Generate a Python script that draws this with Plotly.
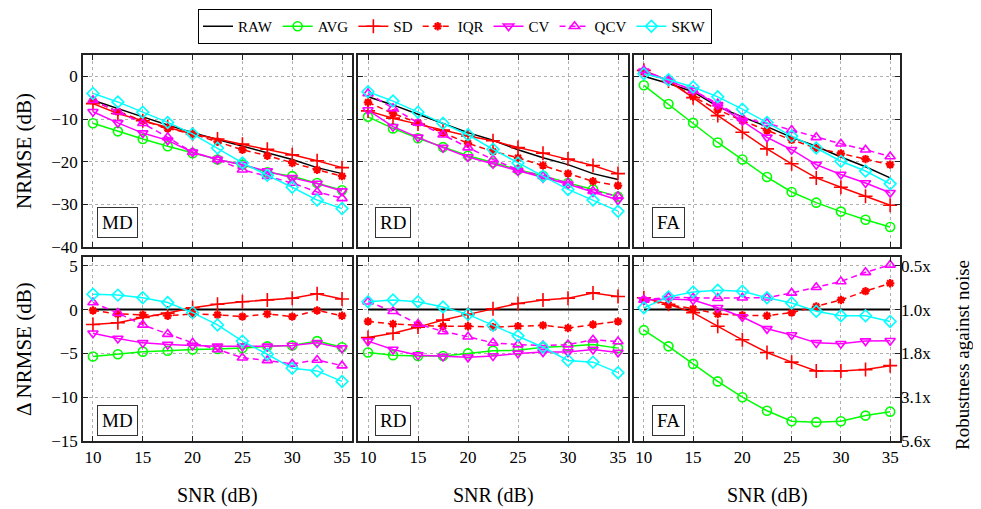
import plotly.graph_objects as go

snr = [10, 12.5, 15, 17.5, 20, 22.5, 25, 27.5, 30, 32.5, 35]
methods = ["RAW", "AVG", "SD", "IQR", "CV", "QCV", "SKW"]
panels = ["MD", "RD", "FA"]

# Row 1: NRMSE (dB)
nrmse_MD = {
    "RAW": [-5.6, -7.6, -9.5, -11.4, -13.2, -14.8, -16.4, -18.0, -19.5, -21.4, -22.8],
    "AVG": [-11.0, -12.9, -14.7, -16.4, -18.0, -19.5, -20.7, -22.5, -23.4, -25.0, -26.7],
    "SD":  [-6.4, -8.7, -10.4, -11.9, -13.5, -14.7, -15.9, -17.1, -18.4, -19.8, -21.4],
    "IQR": [-5.7, -8.3, -10.4, -12.2, -13.5, -15.3, -17.2, -18.6, -20.3, -21.9, -23.4],
    "CV":  [-8.3, -10.9, -13.3, -15.0, -17.8, -19.5, -20.7, -22.2, -23.8, -25.1, -26.9],
    "QCV": [-5.6, -8.3, -11.0, -14.3, -17.8, -19.5, -21.9, -23.4, -25.0, -27.1, -28.6],
    "SKW": [-4.0, -6.0, -8.4, -10.8, -13.5, -16.8, -20.3, -23.2, -26.0, -29.0, -31.0],
}
nrmse_RD = {
    "RAW": [-4.8, -6.7, -8.9, -11.0, -13.2, -15.0, -17.2, -19.1, -20.7, -22.8, -24.2],
    "AVG": [-9.5, -12.2, -14.5, -16.6, -18.6, -20.2, -21.9, -23.3, -25.0, -26.5, -28.2],
    "SD":  [-8.1, -9.8, -11.2, -12.6, -14.0, -15.1, -16.7, -18.0, -19.4, -20.9, -22.8],
    "IQR": [-6.1, -8.7, -10.9, -13.2, -15.7, -17.6, -19.1, -20.9, -22.8, -24.6, -25.6],
    "CV":  [-7.9, -11.8, -14.3, -16.7, -18.9, -20.5, -22.2, -23.8, -25.3, -27.1, -29.0],
    "QCV": [-4.0, -7.5, -10.9, -13.7, -16.7, -19.5, -21.9, -23.4, -25.0, -26.9, -28.1],
    "SKW": [-3.6, -5.8, -8.4, -11.0, -13.7, -17.1, -20.3, -23.4, -26.5, -29.0, -31.6],
}
nrmse_FA = {
    "RAW": [0.0, -1.7, -3.6, -7.1, -9.5, -11.8, -14.3, -16.4, -18.9, -21.2, -23.8],
    "AVG": [-2.1, -6.5, -10.9, -15.5, -19.5, -23.6, -27.1, -29.6, -31.7, -33.6, -35.3],
    "SD":  [1.4, -1.1, -5.0, -9.2, -13.1, -17.0, -20.5, -23.8, -26.0, -28.1, -30.2],
    "IQR": [1.0, -1.1, -4.8, -7.8, -10.4, -12.7, -14.9, -16.8, -18.1, -19.4, -20.7],
    "CV":  [1.2, -1.1, -3.3, -6.7, -10.4, -14.3, -17.2, -20.7, -23.0, -25.0, -27.3],
    "QCV": [1.4, -0.9, -3.3, -6.4, -9.8, -11.0, -12.6, -14.3, -15.8, -17.2, -18.8],
    "SKW": [0.6, -0.8, -2.5, -4.8, -7.7, -10.8, -14.0, -16.8, -19.9, -22.2, -25.2],
}

# Row 2: delta NRMSE (dB)
delta_MD = {
    "RAW": [0.0] * 11,
    "AVG": [-5.35, -5.1, -4.8, -4.7, -4.55, -4.5, -4.4, -4.2, -4.1, -3.6, -4.3],
    "SD":  [-1.7, -1.5, -0.9, -0.4, 0.2, 0.6, 0.9, 1.1, 1.3, 1.8, 1.2],
    "IQR": [-0.1, -0.5, -0.6, -0.7, -0.5, -0.6, -0.8, -0.5, -0.8, -0.1, -0.7],
    "CV":  [-2.7, -3.3, -3.8, -4.0, -4.1, -4.2, -4.2, -4.2, -4.1, -3.8, -4.4],
    "QCV": [0.8, -0.4, -1.75, -2.8, -3.8, -4.55, -5.5, -5.8, -6.2, -5.75, -6.4],
    "SKW": [1.75, 1.65, 1.35, 0.8, -0.35, -1.75, -3.6, -5.1, -6.7, -7.0, -8.2],
}
delta_RD = {
    "RAW": [0.0] * 11,
    "AVG": [-4.9, -5.2, -5.3, -5.3, -5.0, -4.7, -4.65, -4.3, -4.2, -4.0, -4.4],
    "SD":  [-3.2, -2.7, -2.0, -1.2, -0.55, 0.1, 0.7, 1.1, 1.3, 1.9, 1.5],
    "IQR": [-1.35, -1.65, -1.8, -1.9, -1.9, -2.0, -1.9, -1.8, -2.1, -1.7, -1.35],
    "CV":  [-3.6, -4.55, -5.2, -5.35, -5.45, -5.3, -5.0, -4.85, -4.85, -4.55, -4.9],
    "QCV": [0.9, -0.2, -1.65, -2.5, -3.1, -3.8, -4.0, -4.1, -4.0, -3.45, -3.65],
    "SKW": [0.9, 1.1, 0.9, 0.3, -0.55, -1.8, -3.0, -4.3, -5.8, -6.0, -7.2],
}
delta_FA = {
    "RAW": [0.0] * 11,
    "AVG": [-2.35, -4.2, -6.2, -8.2, -10.0, -11.55, -12.75, -12.85, -12.75, -12.1, -11.65],
    "SD":  [1.35, 0.6, -0.35, -1.9, -3.45, -4.9, -6.0, -7.0, -7.0, -6.85, -6.4],
    "IQR": [1.1, 0.55, 0.1, -0.5, -0.65, -0.7, -0.35, 0.35, 1.1, 2.1, 3.0],
    "CV":  [1.1, 1.2, 1.1, 0.2, -0.85, -2.2, -2.9, -3.8, -3.9, -3.6, -3.55],
    "QCV": [1.1, 1.4, 1.35, 1.3, 1.35, 1.35, 1.9, 2.55, 3.2, 4.25, 5.1],
    "SKW": [0.2, 1.45, 2.0, 2.2, 2.1, 1.35, 0.75, -0.2, -0.7, -0.7, -1.35],
}

x_ticks = [10, 15, 20, 25, 30, 35]
y1_ticks = [0, -10, -20, -30, -40]
y2_ticks = [5, 0, -5, -10, -15]
robust_labels = ["0.5x", "1.0x", "1.8x", "3.1x", "5.6x"]

style = {
    "RAW": dict(color="#000000", symbol=None, dash="solid"),
    "AVG": dict(color="#00ff00", symbol="circle-open", dash="solid"),
    "SD":  dict(color="#ff0000", symbol="cross-thin-open", dash="solid"),
    "IQR": dict(color="#ff0000", symbol="asterisk-open", dash="6px,4px"),
    "CV":  dict(color="#ff00ff", symbol="triangle-down-open", dash="solid"),
    "QCV": dict(color="#ff00ff", symbol="triangle-up-open", dash="6px,4px"),
    "SKW": dict(color="#00ffff", symbol="diamond-open", dash="solid"),
}

# page body has an 8px margin: the figure starts at (8, 8) on screen
OFF = 8
W, H = 981 - OFF, 509 - OFF
FONT = "Liberation Serif"
cols_px = [(83, 352), (358, 628), (634, 900)]   # screen px
rows_px = [(55, 247), (257, 441)]               # screen px


def px_x(sx):
    return (sx - OFF) / W


def px_y(sy):
    return 1 - (sy - OFF) / H


fig = go.Figure()
data_rows = [[nrmse_MD, nrmse_RD, nrmse_FA], [delta_MD, delta_RD, delta_FA]]

for r in range(2):
    for c in range(3):
        k = r * 3 + c + 1
        xa = "x" if k == 1 else f"x{k}"
        ya = "y" if k == 1 else f"y{k}"
        d = data_rows[r][c]
        for m in methods:
            s = style[m]
            mode = "lines" if s["symbol"] is None else "lines+markers"
            lw = 2 if (m == "RAW" and r == 1) else 1.5
            marker = None
            if s["symbol"] is not None:
                sz = {"cross-thin-open": 10, "asterisk-open": 7}.get(s["symbol"], 9)
                lwm = 2.2 if s["symbol"] == "asterisk-open" else 1.6
                marker = dict(symbol=s["symbol"], size=sz, color=s["color"],
                              line=dict(width=lwm, color=s["color"]))
            fig.add_trace(go.Scatter(
                x=snr, y=d[m], mode=mode, name=m, legendgroup=m,
                showlegend=(k == 1), xaxis=xa, yaxis=ya,
                line=dict(color=s["color"], width=lw, dash=s["dash"]),
                marker=marker,
            ))

tick_font = dict(family=FONT, size=17, color="black")
common_ax = dict(showline=True, linecolor="#222222", linewidth=1.5, mirror="ticks",
                 ticks="inside", ticklen=5, tickcolor="#222222", showgrid=True,
                 gridcolor="#b0b0b0", griddash="dot", gridwidth=1, zeroline=False,
                 automargin=False)

fig.update_layout(width=W, height=H, autosize=False, margin=dict(l=0, r=0, t=0, b=0),
                  plot_bgcolor="white", paper_bgcolor="white",
                  font=dict(family=FONT, size=17, color="black"))

for r in range(2):
    for c in range(3):
        k = r * 3 + c + 1
        xn = "xaxis" if k == 1 else f"xaxis{k}"
        yn = "yaxis" if k == 1 else f"yaxis{k}"
        x0, x1 = cols_px[c]
        t0, t1 = rows_px[r]
        xax = dict(common_ax, domain=[px_x(x0), px_x(x1)], range=[9, 36], tickvals=x_ticks,
                   anchor="y" if k == 1 else f"y{k}", showticklabels=(r == 1),
                   tickfont=tick_font)
        yax = dict(common_ax, domain=[px_y(t1), px_y(t0)],
                   anchor="x" if k == 1 else f"x{k}", showticklabels=(c == 0),
                   tickfont=tick_font)
        if r == 0:
            yax.update(range=[-40, 5], tickvals=y1_ticks)
        else:
            yax.update(range=[-15, 6], tickvals=y2_ticks)
        fig.update_layout({xn: xax, yn: yax})

fig.update_layout(yaxis7=dict(overlaying="y6", anchor="x6", side="right", range=[-15, 6],
                              tickvals=y2_ticks, ticktext=robust_labels, showgrid=False,
                              zeroline=False, showline=False, ticks="",
                              tickfont=tick_font, automargin=False))
fig.add_trace(go.Scatter(x=[10], y=[0], xaxis="x6", yaxis="y7", mode="markers",
                         marker=dict(opacity=0), showlegend=False, hoverinfo="skip"))

fig.update_layout(legend=dict(orientation="h", x=px_x(455), xanchor="center", y=px_y(9),
                              yanchor="top", bordercolor="black", borderwidth=1, bgcolor="white",
                              font=dict(family=FONT, size=15, color="black"),
                              itemwidth=30, tracegroupgap=0))

# axis titles
for c in range(3):
    x0, x1 = cols_px[c]
    fig.add_annotation(text="SNR (dB)", xref="paper", yref="paper", x=px_x((x0 + x1) / 2),
                       y=px_y(495), xanchor="center", yanchor="middle", showarrow=False,
                       font=dict(family=FONT, size=20, color="black"))
fig.add_annotation(text="NRMSE (dB)", xref="paper", yref="paper", x=px_x(24), y=px_y(151),
                   textangle=-90, xanchor="center", yanchor="middle", showarrow=False,
                   font=dict(family=FONT, size=21, color="black"))
fig.add_annotation(text="Δ NRMSE (dB)", xref="paper", yref="paper", x=px_x(24), y=px_y(349),
                   textangle=-90, xanchor="center", yanchor="middle", showarrow=False,
                   font=dict(family=FONT, size=21, color="black"))
fig.add_annotation(text="Robustness against noise", xref="paper", yref="paper", x=px_x(962),
                   y=px_y(355), textangle=-90, xanchor="center", yanchor="middle",
                   showarrow=False, font=dict(family=FONT, size=19, color="black"))

# panel labels
for r in range(2):
    for c in range(3):
        k = r * 3 + c + 1
        xd = "x domain" if k == 1 else f"x{k} domain"
        yd = "y domain" if k == 1 else f"y{k} domain"
        fig.add_annotation(text=panels[c], xref=xd, yref=yd, x=0.13,
                           y=0.13 if r == 0 else 0.11, xanchor="center", yanchor="middle",
                           showarrow=False, bgcolor="white", bordercolor="#333333",
                           borderwidth=1, borderpad=4,
                           font=dict(family=FONT, size=19, color="black"))

fig.write_html("out.html")
